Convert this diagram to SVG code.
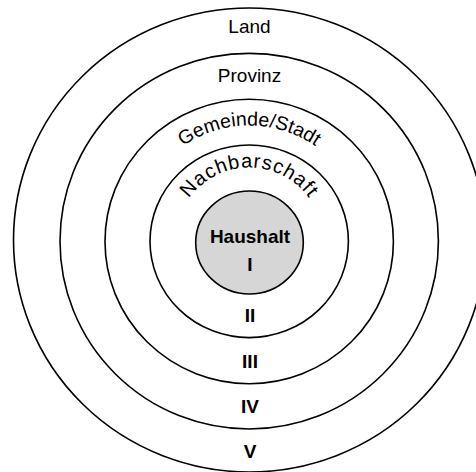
<svg xmlns="http://www.w3.org/2000/svg" width="476" height="472" viewBox="0 0 476 472">
  <style>
    .ring { fill: none; stroke: #000; stroke-width: 1.6; }
    .core { fill: #d6d6d6; stroke: #000; stroke-width: 1.6; }
    .lbl { font-family: "Liberation Sans", Arial, Helvetica, sans-serif; font-size: 19px; fill: #000; text-anchor: middle; }
    .num { font-family: "Liberation Sans", Arial, Helvetica, sans-serif; font-size: 19px; font-weight: bold; fill: #000; text-anchor: middle; }
  </style>
  <defs>
    <path id="arcGemeinde" d="M 133.2,241.5 A 116,116 0 0 1 365.2,241.5"/>
    <path id="arcNachbar" d="M 175.2,241.5 A 74,74 0 0 1 323.2,241.5"/>
  </defs>
  <rect width="476" height="472" fill="#fff"/>
  <g id="land">
    <ellipse class="ring" cx="249.5" cy="240" rx="236" ry="232"/>
    <text class="lbl" x="249.5" y="33">Land</text>
    <text class="num" x="250" y="458">V</text>
  </g>
  <g id="provinz">
    <ellipse class="ring" cx="249.2" cy="241.2" rx="189.2" ry="187.8"/>
    <text class="lbl" x="249.5" y="82">Provinz</text>
    <text class="num" x="250" y="413">IV</text>
  </g>
  <g id="gemeinde">
    <ellipse class="ring" cx="249.2" cy="241.5" rx="144.2" ry="142.2"/>
    <text class="lbl" style="font-size:19.5px"><textPath href="#arcGemeinde" startOffset="50%">Gemeinde/Stadt</textPath></text>
    <text class="num" x="250" y="368">III</text>
  </g>
  <g id="nachbarschaft">
    <ellipse class="ring" cx="249.2" cy="241.3" rx="99.2" ry="96.3"/>
    <text class="lbl" style="font-size:20px" letter-spacing="0.9"><textPath href="#arcNachbar" startOffset="50%">Nachbarschaft</textPath></text>
    <text class="num" x="250" y="322">II</text>
  </g>
  <g id="haushalt">
    <ellipse class="core" cx="249.5" cy="242.5" rx="53.8" ry="51.5"/>
    <text class="num" x="250" y="243">Haushalt</text>
    <text class="num" x="250" y="271">I</text>
  </g>
  <g id="connectors"/>
</svg>
